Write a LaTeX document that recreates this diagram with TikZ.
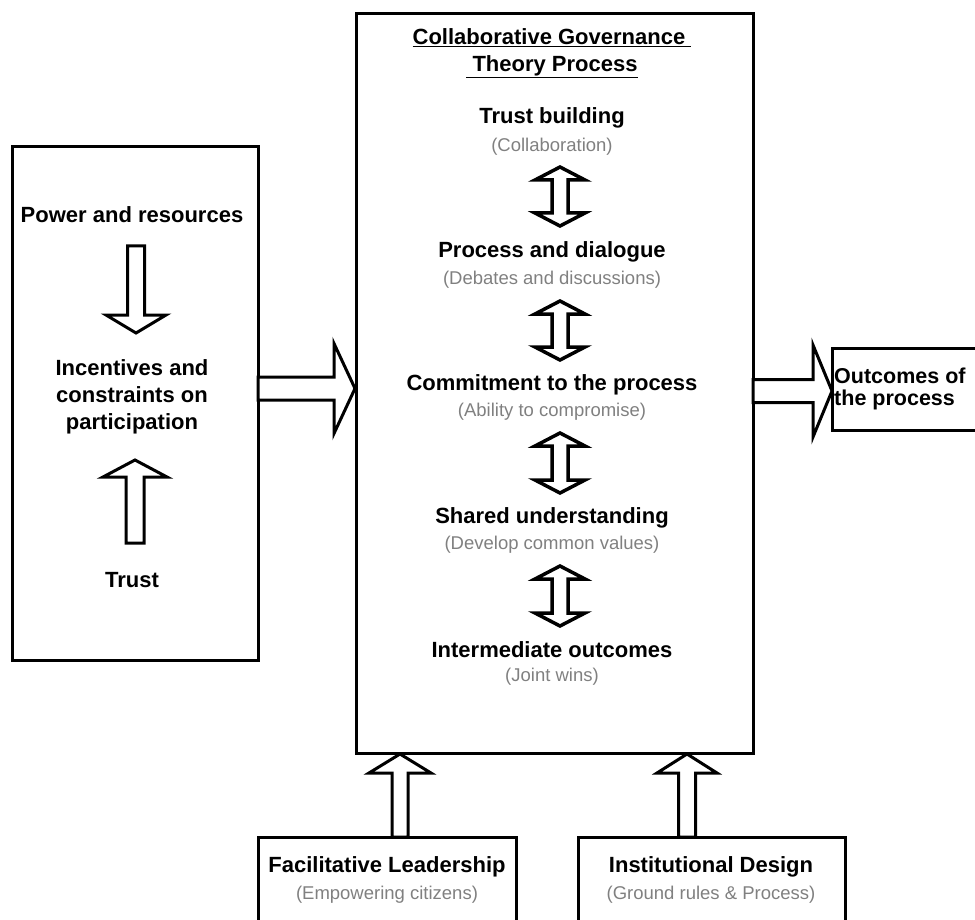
\documentclass[tikz,border=0pt]{standalone}
\usepackage{fontspec}
\setmainfont{Liberation Sans}
\usetikzlibrary{calc}

\tikzset{
  box/.style={draw=black, line width=3pt, inner sep=0pt},
  head/.style={font=\bfseries\fontsize{22}{27}\selectfont, align=center, inner sep=0pt},
  note/.style={font=\fontsize{18.5}{22}\selectfont, text=black!50, inner sep=0pt},
  arrowline/.style={draw=black, fill=white, line width=3pt, line join=miter},
  % one-headed block arrow: shaft half width, head half width, head length
  blockarrow/.style n args={3}{to path={
    ($(\tikztotarget)!#3!(\tikztostart)$) coordinate (ah)
    ($(\tikztostart)!#1!90:(\tikztotarget)$) -- ($(ah)!#1!90:(\tikztotarget)$)
    -- ($(ah)!#2!90:(\tikztotarget)$) -- (\tikztotarget)
    -- ($(ah)!#2!-90:(\tikztotarget)$) -- ($(ah)!#1!-90:(\tikztotarget)$)
    -- ($(\tikztostart)!#1!-90:(\tikztotarget)$) -- cycle}},
  % two-headed block arrow
  twoarrow/.style n args={3}{to path={
    ($(\tikztostart)!#3!(\tikztotarget)$) coordinate (hs)
    ($(\tikztotarget)!#3!(\tikztostart)$) coordinate (ht)
    (\tikztotarget) -- ($(ht)!#2!90:(\tikztotarget)$) -- ($(ht)!#1!90:(\tikztotarget)$)
    -- ($(hs)!#1!90:(\tikztotarget)$) -- ($(hs)!#2!90:(\tikztotarget)$) -- (\tikztostart)
    -- ($(hs)!#2!-90:(\tikztotarget)$) -- ($(hs)!#1!-90:(\tikztotarget)$)
    -- ($(ht)!#1!-90:(\tikztotarget)$) -- ($(ht)!#2!-90:(\tikztotarget)$) -- cycle}},
}

\begin{document}
\begin{tikzpicture}[x=1pt,y=-1pt]
\path[use as bounding box, clip] (0,0) rectangle (975,920);

% boxes
\node[box, minimum width=246pt, minimum height=513pt] (left) at (135,403.5) {};
\node[box, minimum width=397pt, minimum height=739pt] (main) at (554.5,383.5) {};
\node[box, minimum width=158pt, minimum height=82pt]  (out)  at (911,389) {};
\node[box, minimum width=258pt, minimum height=113pt] (lead) at (387,893.5) {};
\node[box, minimum width=267pt, minimum height=113pt] (inst) at (711.5,893.5) {};

% left box
\node[head] (power)  at (132,215) {Power and resources};
\node[head] (incent) at (132,397) {Incentives and\\constraints on\\participation};
\node[head] (trust)  at (132,580) {Trust};

% main box
\node[head] (title) at (552,53.5) {\underline{Collaborative Governance~}\\\underline{~Theory Process}};
\node[head] (s1) at (552,118) {Trust building};
\node[note] (n1) at (552,147) {(Collaboration)};
\node[head] (s2) at (552,252) {Process and dialogue};
\node[note] (n2) at (552,280) {(Debates and discussions)};
\node[head] (s3) at (552,385) {Commitment to the process};
\node[note] (n3) at (552,412) {(Ability to compromise)};
\node[head] (s4) at (552,518) {Shared understanding};
\node[note] (n4) at (552,545) {(Develop common values)};
\node[head] (s5) at (552,650) {Intermediate outcomes};
\node[note] (n5) at (552,677) {(Joint wins)};

% outcomes
\node[head, align=left, anchor=west, font=\bfseries\fontsize{21.5}{22}\selectfont] (outtext) at (834,389) {Outcomes of\\the process};

% bottom boxes
\node[head] (leadtext) at (387,867) {Facilitative Leadership};
\node[note] (leadnote) at (387,895) {(Empowering citizens)};
\node[head] (insttext) at (711,867) {Institutional Design};
\node[note] (instnote) at (711,895) {(Ground rules \& Process)};

% arrow ends
\coordinate (pdown1) at (136,246);
\coordinate (pdown2) at (136,333);
\coordinate (tup1)   at (135,543);
\coordinate (tup2)   at (135,460);
\coordinate (lmain1) at (258,388.5);
\coordinate (lmain2) at (355,388.5);
\coordinate (mout1)  at (753,391);
\coordinate (mout2)  at (832,391);
\coordinate (lead1)  at (400,837);
\coordinate (lead2)  at (400,754);
\coordinate (inst1)  at (687,837);
\coordinate (inst2)  at (687,754);
\coordinate (a1) at (560,167);
\coordinate (b1) at (560,226);
\coordinate (a2) at (560,301);
\coordinate (b2) at (560,360);
\coordinate (a3) at (560,433);
\coordinate (b3) at (560,493);
\coordinate (a4) at (560,566);
\coordinate (b4) at (560,626);

% arrows
\draw[arrowline, blockarrow={8.5pt}{30pt}{18pt}] (pdown1) to (pdown2);
\draw[arrowline, blockarrow={9pt}{32pt}{17pt}]   (tup1) to (tup2);
\draw[arrowline, blockarrow={11.5pt}{45pt}{21pt}] (lmain1) to (lmain2);
\draw[arrowline, blockarrow={11.5pt}{46pt}{19pt}] (mout1) to (mout2);
\draw[arrowline, blockarrow={8pt}{31pt}{19pt}]   (lead1) to (lead2);
\draw[arrowline, blockarrow={8.5pt}{30pt}{19pt}] (inst1) to (inst2);

\draw[arrowline, line width=3.5pt, twoarrow={8pt}{25pt}{13pt}] (a1) to (b1);
\draw[arrowline, line width=3.5pt, twoarrow={8pt}{25pt}{13pt}] (a2) to (b2);
\draw[arrowline, line width=3.5pt, twoarrow={8pt}{25pt}{13pt}] (a3) to (b3);
\draw[arrowline, line width=3.5pt, twoarrow={8pt}{25pt}{13pt}] (a4) to (b4);
\end{tikzpicture}
\end{document}
